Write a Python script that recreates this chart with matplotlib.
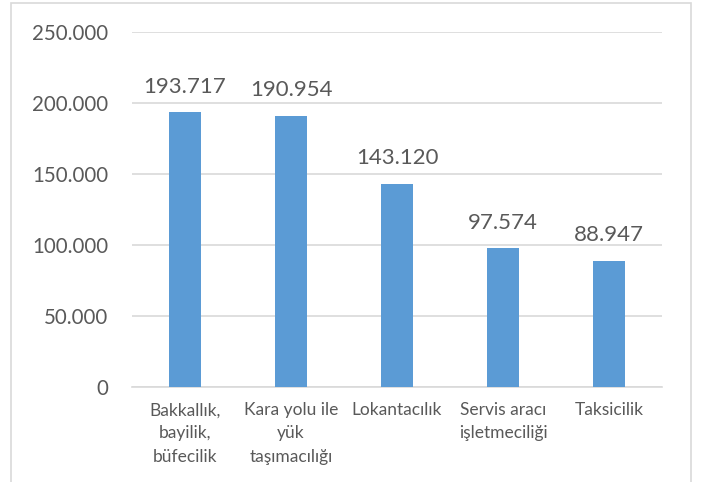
import matplotlib.pyplot as plt
from matplotlib.patches import Rectangle
from matplotlib.ticker import FuncFormatter

plt.rcParams['font.family'] = ['Lato', 'DejaVu Sans']

categories = ['Bakkallık,\nbayilik,\nbüfecilik', 'Kara yolu ile\nyük\ntaşımacılığı',
              'Lokantacılık', 'Servis aracı\nişletmeciliği', 'Taksicilik']
values = [193717, 190954, 143120, 97574, 88947]
yticks = [0, 50000, 100000, 150000, 200000, 250000]

text_col = '#595959'
bar_col = '#5b9bd5'

def tr_fmt(v, pos=None):
    return f'{int(v):,}'.replace(',', '.')

fig = plt.figure(figsize=(7.02, 4.82), dpi=100)
ax = fig.add_axes([0.188, 0.197, 0.755, 0.737])

x = range(len(categories))
bars = ax.bar(x, values, width=0.31, color=bar_col, zorder=3)

for xi, v in zip(x, values):
    ax.annotate(tr_fmt(v), (xi, v), xytext=(0, 11), textcoords='offset points',
                ha='center', va='bottom', fontsize=16, color=text_col)

ax.set_xlim(-0.5, len(categories) - 0.5)
ax.set_ylim(0, 250000)
ax.set_yticks(yticks)
ax.yaxis.set_major_formatter(FuncFormatter(tr_fmt))
ax.set_xticks(list(x))
ax.set_xticklabels(categories, fontsize=12.5, color=text_col, linespacing=1.55)
ax.tick_params(axis='y', length=0, labelsize=14.8, labelcolor=text_col, pad=17)
ax.tick_params(axis='x', length=0, pad=11)
ax.grid(axis='y', color='#d9d9d9', linewidth=1.2, zorder=0)
for s in ['top', 'right', 'left']:
    ax.spines[s].set_visible(False)
ax.spines['bottom'].set_color('#d9d9d9')
ax.spines['bottom'].set_linewidth(1.2)

# outer chart border
fig.patches.append(Rectangle((11 / 702, -0.1), 680 / 702, 1.1 - 3 / 482,
                             transform=fig.transFigure, fill=False,
                             edgecolor='#d9d9d9', linewidth=1.2, clip_on=False))

fig.savefig('out.png', dpi=100)
